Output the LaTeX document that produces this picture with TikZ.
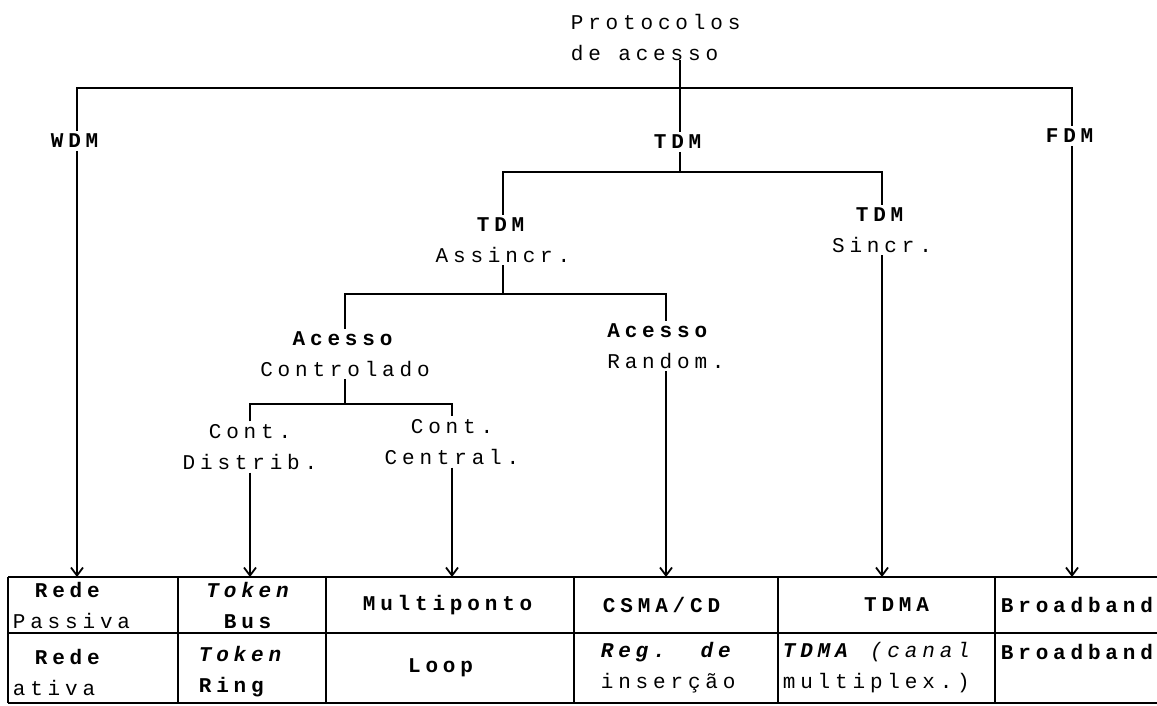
\documentclass[tikz,border=0pt]{standalone}
\usepackage{fontspec}
\newfontfamily\dotmx{Liberation Mono}[LetterSpace=23]
\usetikzlibrary{arrows.meta}
\begin{document}
\begin{tikzpicture}[x=0.5pt,y=-0.5pt,line width=0.9pt,
  every node/.style={font=\dotmx\fontsize{10.5}{15.5}\selectfont,inner sep=1pt},
  arr/.style={-{Straight Barb[length=4pt,width=6pt]}}]
\useasboundingbox (0,0) rectangle (1157,706);
% tree
\node[align=left,anchor=west] (title) at (568,38) {Protocolos\\de acesso};
\node (wdm) at (77,141) {\textbf{WDM}};
\node (tdm) at (680,142) {\textbf{TDM}};
\node (fdm) at (1072,136) {\textbf{FDM}};
\coordinate (t0) at (680,60);
\coordinate (b0) at (680,88);
\draw (t0) -- (tdm.north);
\draw (wdm.north) |- (b0) -| (fdm.north);
\node[align=center] (asinc) at (503,240) {\textbf{TDM}\\Assincr.};
\node[align=center] (sinc) at (882,230) {\textbf{TDM}\\Sincr.};
\coordinate (b1) at (680,172);
\draw (tdm.south) -- (b1);
\draw (asinc.north) |- (b1) -| (sinc.north);
\node[align=center] (ctrl) at (345,354) {\textbf{Acesso}\\Controlado};
\node[align=left] (rand) at (666,346) {\textbf{Acesso}\\Random.};
\coordinate (b2) at (503,294);
\draw (asinc.south) -- (b2);
\draw (ctrl.north) |- (b2) -| (rand.north);
\node[align=center] (distr) at (250,447) {Cont.\\Distrib.};
\node[align=center] (centr) at (452,442) {Cont.\\Central.};
\coordinate (b3) at (345,404);
\draw (ctrl.south) -- (b3);
\draw (distr.north) |- (b3) -| (centr.north);
\coordinate (top) at (0,577);
\foreach \n in {wdm,distr,centr,rand,sinc,fdm}
  \draw[arr] (\n.south) -- (\n.south |- top);
% table
\foreach \y in {577,633,703} \draw (8,\y) -- (1157,\y);
\foreach \x in {8,178,326,574,778,995} \draw (\x,577) -- (\x,703);
\node[align=left,anchor=west] (c11) at (10,605) {\hspace*{11pt}\textbf{Rede}\\Passiva};
\node[align=center] (c12) at (250,605) {\textbf{\textit{Token}}\\\textbf{Bus}};
\node (c13) at (450,605) {\textbf{Multiponto}};
\node (c14) at (664,605) {\textbf{CSMA/CD}};
\node (c15) at (899,605) {\textbf{TDMA}};
\node[anchor=west] (c16) at (998,605) {\textbf{Broadband}};
\node[align=left,anchor=west] (c21) at (10,672) {\hspace*{11pt}\textbf{Rede}\\ativa};
\node[align=left,anchor=west] (c22) at (196,672) {\textbf{\textit{Token}}\\\textbf{Ring}};
\node (c23) at (443,668) {\textbf{Loop}};
\node[align=left,anchor=west] (c24) at (598,668) {\textbf{\textit{Reg.\ \ de}}\\inserção};
\node[align=left,anchor=west] (c25) at (780,668) {\textbf{\textit{TDMA}} \textit{(canal}\\multiplex.)};
\node[anchor=west] (c26) at (998,652) {\textbf{Broadband}};
\end{tikzpicture}
\end{document}
